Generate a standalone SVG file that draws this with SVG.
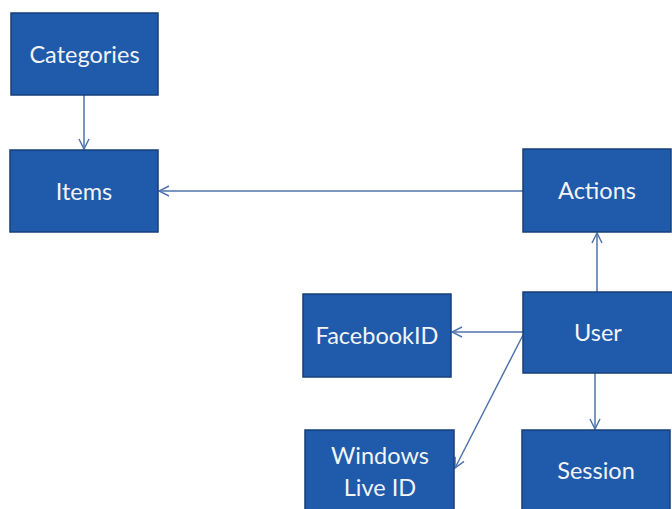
<svg xmlns="http://www.w3.org/2000/svg" width="672" height="509" viewBox="0 0 672 509">
  <defs>
    <style>
      .box { fill: #1f5aab; stroke: #163f78; stroke-width: 1.5; }
      .lbl { fill: #f2f4f8; font-family: Lato, "Open Sans", "Liberation Sans", sans-serif; font-size: 23.5px; text-anchor: middle; dominant-baseline: central; }
      .edge { stroke: #4f74ad; stroke-width: 1.5; fill: none; marker-end: url(#arrow); }
    </style>
    <marker id="arrow" viewBox="0 0 12 12" refX="11" refY="6" markerWidth="12" markerHeight="12" markerUnits="userSpaceOnUse" orient="auto">
      <path d="M1,1 L11,6 L1,11" fill="none" stroke="#4f74ad" stroke-width="1.5"/>
    </marker>
  </defs>
  <rect width="672" height="509" fill="#ffffff"/>

  <g id="connectors">
    <line class="edge" x1="84" y1="95" x2="84" y2="149"/>
    <line class="edge" x1="523" y1="191" x2="159" y2="191"/>
    <line class="edge" x1="597" y1="292" x2="597" y2="233"/>
    <line class="edge" x1="523" y1="332" x2="452" y2="332"/>
    <line class="edge" x1="523" y1="335" x2="455" y2="468"/>
    <line class="edge" x1="595" y1="373" x2="595" y2="429"/>
  </g>

  <g id="categories">
    <rect class="box" x="11" y="13" width="147" height="82"/>
    <text class="lbl" x="84.5" y="54">Categories</text>
  </g>
  <g id="items">
    <rect class="box" x="10" y="150" width="148" height="82"/>
    <text class="lbl" x="84" y="191">Items</text>
  </g>
  <g id="actions">
    <rect class="box" x="523" y="149" width="148" height="83"/>
    <text class="lbl" x="597" y="190">Actions</text>
  </g>
  <g id="user">
    <rect class="box" x="523" y="292" width="150" height="81"/>
    <text class="lbl" x="598" y="332">User</text>
  </g>
  <g id="facebookid">
    <rect class="box" x="303" y="294" width="148" height="83"/>
    <text class="lbl" x="377" y="335">FacebookID</text>
  </g>
  <g id="windows-live-id">
    <rect class="box" x="305" y="430" width="149" height="85"/>
    <text class="lbl" x="380" y="455">Windows</text>
    <text class="lbl" x="380" y="487">Live ID</text>
  </g>
  <g id="session">
    <rect class="box" x="522" y="430" width="148" height="85"/>
    <text class="lbl" x="596" y="470">Session</text>
  </g>
</svg>
